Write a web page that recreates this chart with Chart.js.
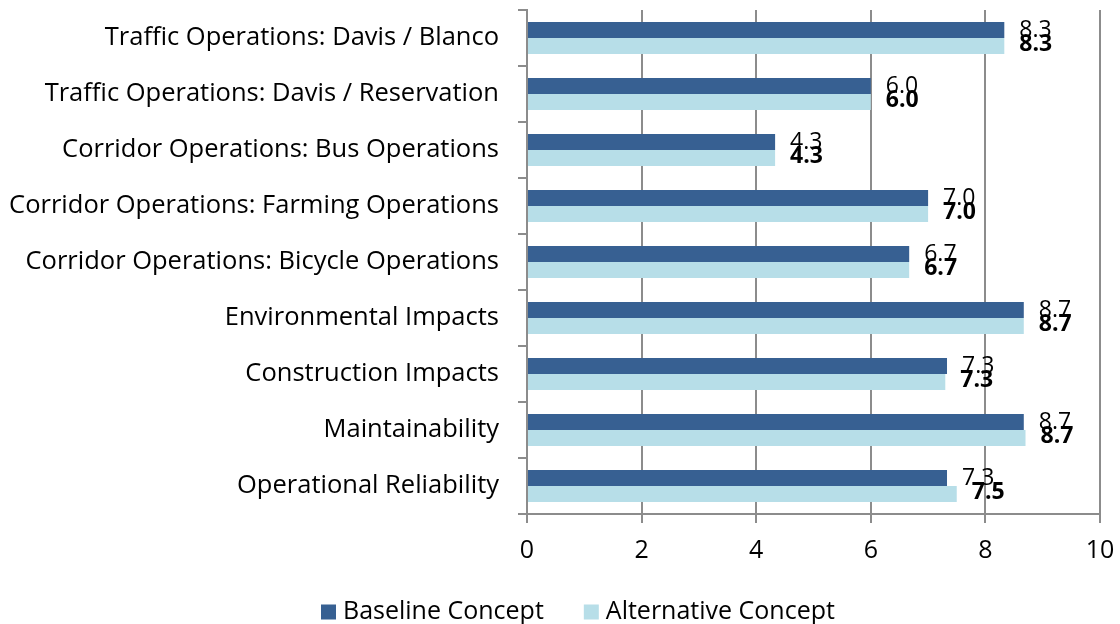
<!DOCTYPE html>
<html>
<head>
<meta charset="utf-8">
<script src="https://cdn.jsdelivr.net/npm/chart.js@4.4.1/dist/chart.umd.min.js"></script>
<style>
  html, body { margin: 0; padding: 0; background: #fff; }
  #wrap { width: 1120px; height: 624px; }
</style>
</head>
<body>
<div id="wrap"><canvas id="scoreChart"></canvas></div>
<script>
// Kategorie oceny (od góry)
const categories = [
    'Traffic Operations: Davis / Blanco',
    'Traffic Operations: Davis / Reservation',
    'Corridor Operations: Bus Operations',
    'Corridor Operations: Farming Operations',
    'Corridor Operations: Bicycle Operations',
    'Environmental Impacts',
    'Construction Impacts',
    'Maintainability',
    'Operational Reliability',
];

// Średnie oceny dla obu koncepcji
const baselineScores = [8.33, 6.0, 4.33, 7.0, 6.67, 8.67, 7.33, 8.67, 7.33];
const alternativeScores = [8.33, 6.0, 4.33, 7.0, 6.67, 8.67, 7.3, 8.7, 7.5];

const xTicks = [0, 2, 4, 6, 8, 10];

const FONT = '"Open Sans", "Noto Sans", sans-serif';
const AXIS_GRAY = '#8c8c8c';

/**
 * Etykiety wartości przy końcach słupków
 */
const valueLabels = {
    id: 'valueLabels',
    afterDatasetsDraw(chart) {
        const ctx = chart.ctx;
        ctx.save();
        ctx.fillStyle = '#000';
        ctx.textAlign = 'left';
        ctx.textBaseline = 'middle';
        chart.data.datasets.forEach((ds, i) => {
            const meta = chart.getDatasetMeta(i);
            const bold = i === 1;
            ctx.font = (bold ? 'bold ' : '') + '23px ' + FONT;
            meta.data.forEach((bar, j) => {
                const dy = bold ? -2 : 0;
                ctx.fillText(ds.data[j].toFixed(1), bar.x + 15, bar.y + dy);
            });
        });
        ctx.restore();
    },
};

/**
 * Legenda rysowana ręcznie pod wykresem
 */
const bottomLegend = {
    id: 'bottomLegend',
    afterDraw(chart) {
        const ctx = chart.ctx;
        const box = 15;
        const gapText = 7;
        const gapItem = 40;
        const y = 612;
        ctx.save();
        ctx.font = '25px ' + FONT;
        ctx.textBaseline = 'middle';
        let x = 321;
        chart.data.datasets.forEach(ds => {
            ctx.fillStyle = ds.backgroundColor;
            ctx.fillRect(x, y - box / 2, box, box);
            ctx.fillStyle = '#000';
            ctx.fillText(ds.label, x + box + gapText, y);
            x += box + gapText + ctx.measureText(ds.label).width + gapItem;
        });
        ctx.restore();
    },
};

const ctx = document.getElementById('scoreChart').getContext('2d');
new Chart(ctx, {
    type: 'bar',
    data: {
        labels: categories,
        datasets: [
            {
                label: 'Baseline Concept',
                data: baselineScores,
                backgroundColor: '#376092',
                categoryPercentage: 0.572,
                barPercentage: 1.0,
            },
            {
                label: 'Alternative Concept',
                data: alternativeScores,
                backgroundColor: '#B7DEE8',
                categoryPercentage: 0.572,
                barPercentage: 1.0,
            },
        ],
    },
    options: {
        indexAxis: 'y',
        responsive: true,
        maintainAspectRatio: false,
        animation: false,
        layout: {
            padding: { top: 10, right: 20, left: 0, bottom: 50 },
        },
        plugins: {
            tooltip: { enabled: false },
            legend: { display: false },
        },
        scales: {
            x: {
                min: 0,
                max: 10,
                afterBuildTicks: (axis) => {
                    axis.ticks = xTicks.map(v => ({ value: v }));
                },
                afterFit: (axis) => {
                    axis.height = 60;
                    axis.paddingLeft = 0;
                    axis.paddingRight = 0;
                },
                ticks: {
                    color: '#000',
                    padding: 13,
                    font: { family: FONT, size: 25 },
                },
                grid: {
                    color: AXIS_GRAY,
                    lineWidth: 2,
                    tickLength: 9,
                },
                border: { color: AXIS_GRAY, width: 2 },
            },
            y: {
                afterFit: (axis) => {
                    axis.width = 527;
                    axis.paddingTop = 0;
                    axis.paddingBottom = 0;
                },
                grid: {
                    drawOnChartArea: false,
                    offset: true,
                    color: AXIS_GRAY,
                    lineWidth: 2,
                    tickLength: 9,
                },
                border: { color: AXIS_GRAY, width: 2 },
                ticks: {
                    color: '#000',
                    padding: 19,
                    font: { family: FONT, size: 25.5 },
                },
            },
        },
    },
    plugins: [valueLabels, bottomLegend],
});
</script>
</body>
</html>
